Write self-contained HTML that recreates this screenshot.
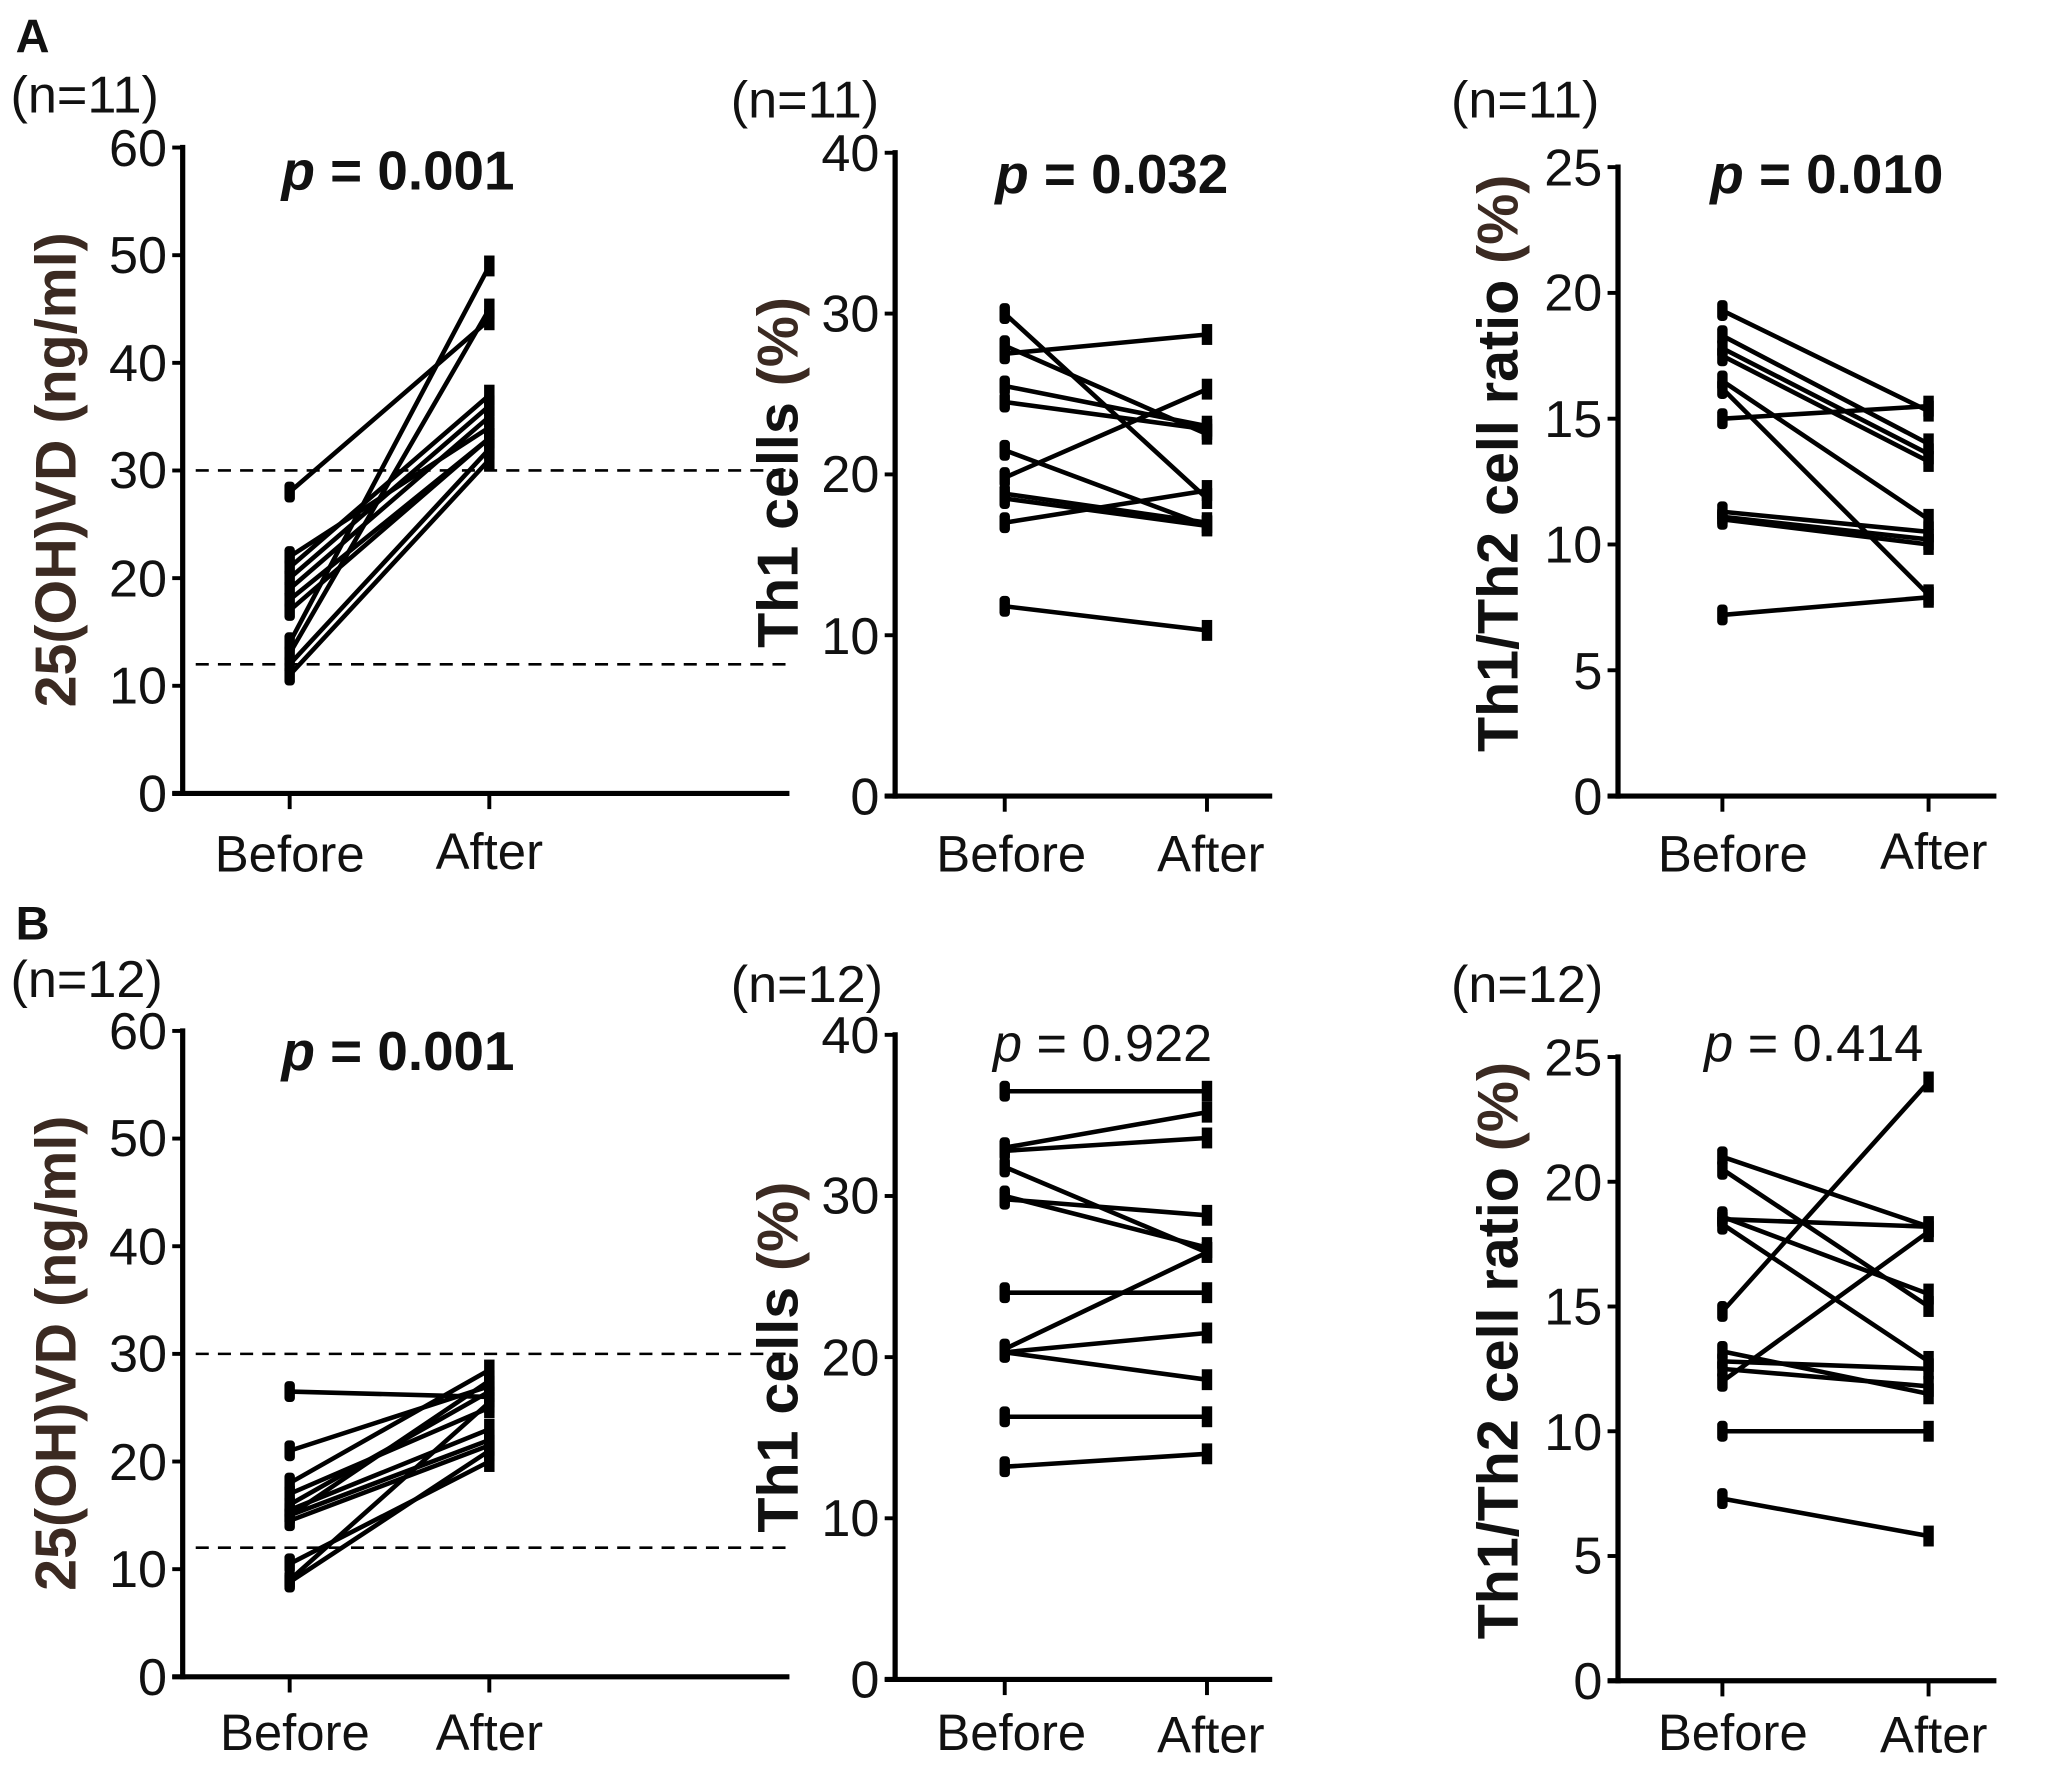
<!DOCTYPE html>
<html><head><meta charset="utf-8"><style>
html,body{margin:0;padding:0;background:#fff}
svg{display:block}
text{font-family:"Liberation Sans",Arial,sans-serif;fill:#111}
.t{font-size:40px;text-anchor:end}
.x{font-size:39px;text-anchor:middle}
.n{font-size:40px}
.pb{font-size:42px;font-weight:bold;text-anchor:middle}
.pn{font-size:40px;text-anchor:middle}
.yl{font-size:44px;font-weight:bold;text-anchor:middle}
.br{fill:#3b2a22}
</style></head><body>
<svg id="s" width="2046" height="1780" viewBox="0 0 1568 1364" xmlns="http://www.w3.org/2000/svg">
<g id="g"></g>
<text x="12" y="40" style="font-size:36px;font-weight:bold">A</text>
<text x="12" y="720" style="font-size:36px;font-weight:bold">B</text>
<text class="n" x="8" y="86">(n=11)</text>
<text class="n" x="560" y="90">(n=11)</text>
<text class="n" x="1112" y="90">(n=11)</text>
<text class="n" x="8" y="764">(n=12)</text>
<text class="n" x="560" y="768">(n=12)</text>
<text class="n" x="1112" y="768">(n=12)</text>

<text class="pb" x="305" y="145"><tspan font-style="italic">p</tspan> = 0.001</text>
<text class="pb" x="852" y="148"><tspan font-style="italic">p</tspan> = 0.032</text>
<text class="pb" x="1400" y="148"><tspan font-style="italic">p</tspan> = 0.010</text>
<text class="pb" x="305" y="820"><tspan font-style="italic">p</tspan> = 0.001</text>
<text class="pn" x="845" y="813"><tspan font-style="italic">p</tspan> = 0.922</text>
<text class="pn" x="1390" y="813"><tspan font-style="italic">p</tspan> = 0.414</text>

<text class="yl br" transform="translate(58,360) rotate(-90)">25(OH)VD (ng/ml)</text>
<text class="yl" transform="translate(611,362) rotate(-90)">Th1 cells <tspan class="br">(%)</tspan></text>
<text class="yl" transform="translate(1163,355) rotate(-90)">Th1/Th2 cell ratio <tspan class="br">(%)</tspan></text>
<text class="yl br" transform="translate(58,1037) rotate(-90)">25(OH)VD (ng/ml)</text>
<text class="yl" transform="translate(611,1040) rotate(-90)">Th1 cells <tspan class="br">(%)</tspan></text>
<text class="yl" transform="translate(1163,1035) rotate(-90)">Th1/Th2 cell ratio <tspan class="br">(%)</tspan></text>

<text class="t" x="128" y="622">0</text><text class="t" x="128" y="539">10</text><text class="t" x="128" y="457">20</text><text class="t" x="128" y="374">30</text><text class="t" x="128" y="292">40</text><text class="t" x="128" y="209">50</text><text class="t" x="128" y="127">60</text>
<text class="t" x="674" y="624">0</text><text class="t" x="674" y="501">10</text><text class="t" x="674" y="377">20</text><text class="t" x="674" y="254">30</text><text class="t" x="674" y="131">40</text>
<text class="t" x="1228" y="624">0</text><text class="t" x="1228" y="528">5</text><text class="t" x="1228" y="431">10</text><text class="t" x="1228" y="335">15</text><text class="t" x="1228" y="238">20</text><text class="t" x="1228" y="142">25</text>
<text class="t" x="128" y="1299">0</text><text class="t" x="128" y="1216">10</text><text class="t" x="128" y="1134">20</text><text class="t" x="128" y="1051">30</text><text class="t" x="128" y="969">40</text><text class="t" x="128" y="886">50</text><text class="t" x="128" y="804">60</text>
<text class="t" x="674" y="1301">0</text><text class="t" x="674" y="1177">10</text><text class="t" x="674" y="1054">20</text><text class="t" x="674" y="930">30</text><text class="t" x="674" y="807">40</text>
<text class="t" x="1228" y="1302">0</text><text class="t" x="1228" y="1206">5</text><text class="t" x="1228" y="1111">10</text><text class="t" x="1228" y="1015">15</text><text class="t" x="1228" y="920">20</text><text class="t" x="1228" y="824">25</text>

<text class="x" x="222" y="668">Before</text><text class="x" x="375" y="666">After</text>
<text class="x" x="775" y="668">Before</text><text class="x" x="928" y="668">After</text>
<text class="x" x="1328" y="668">Before</text><text class="x" x="1482" y="666">After</text>
<text class="x" x="226" y="1341">Before</text><text class="x" x="375" y="1341">After</text>
<text class="x" x="775" y="1341">Before</text><text class="x" x="928" y="1343">After</text>
<text class="x" x="1328" y="1341">Before</text><text class="x" x="1482" y="1343">After</text>
</svg>
<script>
var P=[
{ax:140,y0:608,yt:113,m:60,bx:222,fx:375,xe:605,step:10,dash:1,
 d:[[28,44],[22,34],[21,37],[20,36],[19,35],[18,33],[17,33],[14,49],[13,45],[12,32],[11,31]]},
{ax:686,y0:610,yt:117,m:40,bx:770,fx:925,xe:975,step:10,
 d:[[30,18.5],[28,22.5],[27.5,28.7],[25.5,23],[24.5,22.8],[21.5,16.8],[19.8,25.3],[18.8,17],[18.5,16.8],[17,19],[11.8,10.3]]},
{ax:1240,y0:610,yt:128,m:25,bx:1320,fx:1478,xe:1530,step:5,
 d:[[19.3,15.3],[18.3,14],[17.8,13.6],[17.5,13.3],[16.5,11],[16.2,8],[15,15.5],[11.3,10.5],[11.1,10.2],[11,10],[7.2,7.9]]},
{ax:140,y0:1285,yt:790,m:60,bx:222,fx:375,xe:605,step:10,dash:1,
 d:[[26.5,26],[21,27],[18,28.5],[17,25],[15.5,23],[15,22],[15,27.5],[14.5,21.5],[10.5,20],[9,25.5],[8.8,21],[16,26.5]]},
{ax:686,y0:1287,yt:793,m:40,bx:770,fx:925,xe:975,step:10,
 d:[[36.5,36.5],[33,35.2],[32.8,33.6],[31.8,26.5],[29.8,28.8],[30,26.8],[24,24],[20.5,26.5],[20.3,21.5],[20.3,18.6],[16.3,16.3],[13.2,14]]},
{ax:1240,y0:1288,yt:810,m:25,bx:1320,fx:1478,xe:1530,step:5,
 d:[[21,18.2],[20.5,15],[18.5,18.2],[18.3,12.8],[18.6,15.5],[14.8,24],[13.2,11.5],[12.8,12.5],[12.5,11.8],[12,18],[10,10],[7.3,5.8]]}
];
var g=document.getElementById('g'),h='';
P.forEach(function(p){
 var Y=function(v){return p.y0-v/p.m*(p.y0-p.yt)};
 h+='<line x1="'+p.ax+'" y1="'+(p.yt-2)+'" x2="'+p.ax+'" y2="'+(p.y0+2)+'" stroke="#000" stroke-width="4"/>';
 h+='<line x1="'+(p.ax-8)+'" y1="'+p.y0+'" x2="'+p.xe+'" y2="'+p.y0+'" stroke="#000" stroke-width="4"/>';
 for(var v=0;v<=p.m;v+=p.step){h+='<line x1="'+(p.ax-8)+'" y1="'+Y(v)+'" x2="'+p.ax+'" y2="'+Y(v)+'" stroke="#000" stroke-width="3"/>';}
 [p.bx,p.fx].forEach(function(x){h+='<line x1="'+x+'" y1="'+p.y0+'" x2="'+x+'" y2="'+(p.y0+12)+'" stroke="#000" stroke-width="3"/>';});
 if(p.dash){[30,12].forEach(function(v){h+='<line x1="150" y1="'+Y(v)+'" x2="'+p.xe+'" y2="'+Y(v)+'" stroke="#000" stroke-width="2" stroke-dasharray="10,7"/>';});}
 p.d.forEach(function(q){
  h+='<line x1="'+p.bx+'" y1="'+Y(q[0])+'" x2="'+p.fx+'" y2="'+Y(q[1])+'" stroke="#000" stroke-width="3.5"/>';
  h+='<rect x="'+(p.bx-4)+'" y="'+(Y(q[0])-8)+'" width="8" height="16" rx="3" fill="#000"/>';
  h+='<rect x="'+(p.fx-4)+'" y="'+(Y(q[1])-8)+'" width="8" height="16" fill="#000"/>';
 });
});
g.innerHTML=h;
</script>
</body></html>
